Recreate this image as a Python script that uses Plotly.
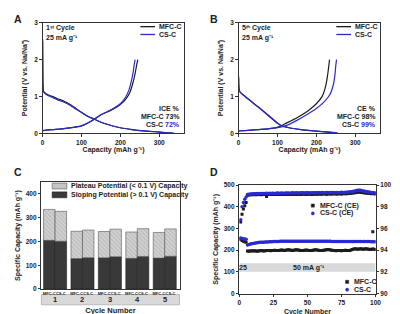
import plotly.graph_objects as go

W, H = 400, 314
FONT = "Liberation Sans"
TXT = "#222222"
BLACK = "#1c1c1c"
BLUE = "#2a2ad0"

def px(x):
    return x / W

def py(y):
    return 1 - y / H

# ---------------- Panel A: 1st cycle (capacity mAh/g, potential V) -------------
a_mfc_dis_cap = [0, 0.5, 1, 2, 4, 8, 15, 25, 40, 55, 70, 85, 100, 115, 133, 150, 170, 200, 230, 260, 290, 315, 338]
a_mfc_dis_v = [2.55, 1.6, 1.3, 1.16, 1.11, 1.08, 1.04, 1.0, 0.93, 0.87, 0.79, 0.68, 0.57, 0.47, 0.38, 0.3, 0.23, 0.15, 0.1, 0.065, 0.04, 0.02, 0.005]
a_cs_dis_cap = [0, 0.5, 1, 2, 4, 8, 15, 25, 40, 55, 70, 85, 100, 115, 133, 150, 170, 200, 230, 260, 290, 312, 332]
a_cs_dis_v = [2.5, 1.55, 1.28, 1.14, 1.1, 1.06, 1.02, 0.97, 0.9, 0.84, 0.76, 0.66, 0.56, 0.46, 0.38, 0.3, 0.23, 0.15, 0.1, 0.065, 0.04, 0.02, 0.005]
a_mfc_ch_cap = [0, 10, 25, 50, 75, 100, 115, 133, 150, 175, 200, 215, 225, 232, 238, 242, 245]
a_mfc_ch_v = [0.07, 0.085, 0.1, 0.12, 0.15, 0.2, 0.27, 0.38, 0.5, 0.62, 0.78, 0.94, 1.12, 1.35, 1.62, 1.85, 2.0]
a_cs_ch_cap = [0, 10, 25, 50, 75, 100, 115, 133, 150, 175, 200, 213, 222, 228, 233, 236, 238]
a_cs_ch_v = [0.07, 0.085, 0.1, 0.12, 0.15, 0.2, 0.27, 0.38, 0.5, 0.63, 0.8, 0.97, 1.17, 1.4, 1.66, 1.88, 2.0]

# ---------------- Panel B: 5th cycle ----------------
b_mfc_dis_cap = [0, 0.5, 1.5, 4, 10, 25, 50, 75, 100, 110, 130, 160, 200, 240]
b_mfc_dis_v = [1.55, 1.3, 1.18, 1.12, 1.06, 0.93, 0.72, 0.5, 0.28, 0.21, 0.15, 0.1, 0.055, 0.015]
b_cs_dis_cap = [0, 0.5, 1.5, 4, 10, 25, 50, 75, 100, 110, 130, 160, 200, 230, 255]
b_cs_dis_v = [1.5, 1.28, 1.17, 1.11, 1.05, 0.92, 0.71, 0.49, 0.27, 0.2, 0.15, 0.1, 0.06, 0.035, 0.012]
b_mfc_ch_cap = [0, 25, 50, 75, 90, 105, 120, 150, 180, 200, 215, 224, 229, 232, 234]
b_mfc_ch_v = [0.06, 0.08, 0.1, 0.12, 0.14, 0.18, 0.26, 0.42, 0.62, 0.8, 1.0, 1.28, 1.58, 1.82, 2.0]
b_cs_ch_cap = [0, 25, 50, 75, 100, 125, 150, 175, 200, 220, 235, 244, 248, 250, 252]
b_cs_ch_v = [0.06, 0.08, 0.1, 0.12, 0.15, 0.22, 0.35, 0.5, 0.67, 0.85, 1.05, 1.33, 1.6, 1.83, 2.0]

# ---------------- Panel C: capacity contributions ----------------
cycles_c = [1, 2, 3, 4, 5]
cycle_labels = ["1", "2", "3", "4", "5"]
mfc_total = [335, 243, 242, 240, 238]
mfc_sloping = [205, 128, 131, 129, 130]
cs_total = [327, 248, 252, 254, 253]
cs_sloping = [201, 132, 136, 137, 138]
bar_names = ["MFC-C", "CS-C"]

# ---------------- Panel D: cycling ----------------
cycle_d = list(range(1, 101))
mfc_cap = [250, 244, 241, 239, 237,
           196, 195, 196, 197, 196, 197, 196, 195, 196, 197,
           198, 197, 196, 197, 198, 199, 198, 197, 198, 199,
           200, 199, 198, 199, 200, 201, 200, 199, 200, 201,
           202, 201, 200, 199, 200, 201, 202, 201, 200, 199,
           198, 199, 200, 201, 200, 199, 198, 199, 200, 201,
           202, 201, 200, 199, 198, 199, 200, 201, 202, 203,
           202, 201, 200, 199, 198, 197, 198, 199, 198, 197,
           198, 199, 200, 199, 198, 199, 201, 203, 205, 206,
           205, 204, 205, 206, 205, 204, 205, 206, 205, 204,
           203, 204, 205, 204, 203]
cs_cap = [256, 254, 252, 251, 250,
          224, 226, 228, 230, 231, 232, 233, 234, 235, 236,
          236, 237, 237, 238, 238, 238, 239, 239, 239, 240,
          240, 240, 240, 240, 241, 241, 241, 241, 241, 241,
          241, 241, 241, 241, 241, 241, 241, 241, 241, 241,
          241, 241, 241, 241, 241, 241, 241, 241, 241, 241,
          241, 241, 241, 241, 241, 241, 241, 241, 241, 241,
          241, 241, 240, 240, 240, 240, 240, 240, 240, 240,
          240, 240, 240, 240, 240, 240, 240, 240, 240, 240,
          240, 240, 240, 240, 240, 240, 240, 240, 240, 240,
          240, 239, 239, 239, 239]
mfc_ce = [96.6, 97.3, 97.8, 98.1, 98.4,
          99.05, 99.08, 99.1, 99.1, 99.12, 99.1, 99.12, 99.1, 99.13, 99.12,
          99.1, 99.12, 99.14, 99.12, 98.95, 99.12, 99.14, 99.12, 99.15, 99.13,
          99.12, 99.14, 99.15, 99.13, 99.12, 99.14, 99.15, 99.13, 99.12, 99.14,
          99.16, 99.14, 99.13, 99.15, 99.16, 99.14, 99.13, 99.15, 99.16, 99.14,
          99.15, 99.17, 99.15, 99.14, 99.16, 99.17, 99.15, 99.14, 99.16, 99.18,
          99.16, 99.15, 99.17, 99.18, 99.16, 99.17, 99.19, 99.17, 99.16, 99.18,
          99.2, 99.18, 99.17, 99.19, 99.2, 99.18, 99.17, 99.19, 99.2, 99.18,
          99.19, 99.21, 99.2, 99.19, 99.21, 99.22, 99.24, 99.26, 99.28, 99.3,
          99.32, 99.34, 99.35, 99.34, 99.32, 99.3, 99.28, 99.26, 99.25, 99.24,
          99.22, 99.2, 95.7, 99.2, 99.18]
cs_ce = [96.8, 98.0, 98.4, 98.7, 98.9,
         99.12, 99.15, 99.17, 99.18, 99.2, 99.19, 99.2, 99.21, 99.2, 99.22,
         99.21, 99.22, 99.23, 99.22, 99.24, 99.23, 99.24, 99.23, 99.25, 99.24,
         99.23, 99.25, 99.26, 99.24, 99.25, 99.26, 99.25, 99.24, 99.26, 99.27,
         99.26, 99.25, 99.27, 99.28, 99.26, 99.27, 99.28, 99.27, 99.26, 99.28,
         99.29, 99.28, 99.27, 99.29, 99.3, 99.28, 99.27, 99.29, 99.3, 99.29,
         99.28, 99.3, 99.31, 99.29, 99.3, 99.31, 99.3, 99.29, 99.31, 99.32,
         99.3, 99.31, 99.32, 99.31, 99.3, 99.32, 99.31, 99.3, 99.32, 99.33,
         99.31, 99.32, 99.33, 99.34, 99.35, 99.36, 99.38, 99.4, 99.43, 99.46,
         99.5, 99.52, 99.53, 99.51, 99.48, 99.45, 99.42, 99.4, 99.38, 99.36,
         99.34, 99.32, 99.3, 99.29, 99.28]

fig = go.Figure()

def curve(x, y, color, xa, ya, name):
    fig.add_trace(go.Scatter(x=x, y=y, mode="lines", name=name, showlegend=False,
                             line=dict(color=color, width=1.2, shape="spline", smoothing=0.6),
                             xaxis=xa, yaxis=ya))

curve(a_mfc_dis_cap, a_mfc_dis_v, BLACK, "x", "y", "MFC-C")
curve(a_mfc_ch_cap, a_mfc_ch_v, BLACK, "x", "y", "MFC-C")
curve(a_cs_dis_cap, a_cs_dis_v, BLUE, "x", "y", "CS-C")
curve(a_cs_ch_cap, a_cs_ch_v, BLUE, "x", "y", "CS-C")
curve(b_mfc_dis_cap, b_mfc_dis_v, BLACK, "x2", "y2", "MFC-C")
curve(b_mfc_ch_cap, b_mfc_ch_v, BLACK, "x2", "y2", "MFC-C")
curve(b_cs_dis_cap, b_cs_dis_v, BLUE, "x2", "y2", "CS-C")
curve(b_cs_ch_cap, b_cs_ch_v, BLUE, "x2", "y2", "CS-C")

# Panel C bars
BW = 0.42
mfc_plateau = [t - s for t, s in zip(mfc_total, mfc_sloping)]
cs_plateau = [t - s for t, s in zip(cs_total, cs_sloping)]
for sl, pl, off in [(mfc_sloping, mfc_plateau, -BW), (cs_sloping, cs_plateau, 0.0)]:
    fig.add_trace(go.Bar(x=cycles_c, y=sl, offset=off, width=BW, xaxis="x3", yaxis="y3",
                         showlegend=False,
                         marker=dict(color="#393939", line=dict(color="#222", width=0.6))))
    fig.add_trace(go.Bar(x=cycles_c, y=pl, base=sl, offset=off, width=BW, xaxis="x3", yaxis="y3",
                         showlegend=False,
                         marker=dict(color="#cfcfcf", line=dict(color="#555", width=0.6),
                                     pattern=dict(shape="\\", fgcolor="#8a8a8a", bgcolor="#cfcfcf",
                                                  size=3, solidity=0.25))))

# Panel D scatter
fig.add_trace(go.Scatter(x=cycle_d, y=mfc_cap, mode="markers", xaxis="x4", yaxis="y4", showlegend=False,
                         marker=dict(symbol="square", size=3, color=BLACK)))
fig.add_trace(go.Scatter(x=cycle_d, y=cs_cap, mode="markers", xaxis="x4", yaxis="y4", showlegend=False,
                         marker=dict(symbol="circle", size=3.5, color=BLUE)))
fig.add_trace(go.Scatter(x=cycle_d, y=mfc_ce, mode="markers", xaxis="x4", yaxis="y5", showlegend=False,
                         marker=dict(symbol="square", size=3, color=BLACK)))
fig.add_trace(go.Scatter(x=cycle_d, y=cs_ce, mode="markers", xaxis="x4", yaxis="y5", showlegend=False,
                         marker=dict(symbol="circle", size=3.5, color=BLUE)))

tickfont = dict(family=FONT, size=6.5, color=TXT, weight="bold")
titlefont = dict(family=FONT, size=7, color=TXT, weight="bold")

def ax(**kw):
    d = dict(showline=True, linecolor="#333", linewidth=1, mirror=True, ticks="outside",
             ticklen=2.5, tickwidth=1, tickcolor="#333", showgrid=False, zeroline=False,
             tickfont=tickfont)
    d.update(kw)
    return d

cap_title = "Capacity (mAh g\u207b\u00b9)"
pot_title = "Potential (V vs. Na/Na\u207a)"
spec_title = "Specific Capacity (mAh g\u207b\u00b9)"

fig.update_layout(
    width=W, height=H, margin=dict(l=0, r=0, t=0, b=0),
    paper_bgcolor="white", plot_bgcolor="white",
    barmode="overlay", showlegend=False,
    font=dict(family=FONT, color=TXT),
    xaxis=ax(domain=[px(33.3), px(178)], range=[0, 365], dtick=100, anchor="y",
             title=dict(text=cap_title, font=titlefont, standoff=2)),
    yaxis=ax(domain=[py(124), py(11)], range=[0, 3], dtick=1, anchor="x",
             title=dict(text=pot_title, font=titlefont, standoff=5)),
    xaxis2=ax(domain=[px(233.3), px(378)], range=[0, 365], dtick=100, anchor="y2",
              title=dict(text=cap_title, font=titlefont, standoff=2)),
    yaxis2=ax(domain=[py(124), py(11)], range=[0, 3], dtick=1, anchor="x2",
              title=dict(text=pot_title, font=titlefont, standoff=5)),
    xaxis3=ax(domain=[px(32), px(173)], range=[0.5, 5.54], anchor="y3", ticks="",
              tickvals=[c - BW / 2 for c in cycles_c] + [c + BW / 2 for c in cycles_c],
              ticktext=[bar_names[0]] * 5 + [bar_names[1]] * 5,
              tickfont=dict(family=FONT, size=4, color=TXT, weight="bold"),
              title=dict(text="Cycle Number", font=dict(family=FONT, size=7.5, color=TXT, weight="bold"),
                         standoff=12)),
    yaxis3=ax(domain=[py(283.3), py(174)], range=[0, 450], dtick=100, anchor="x3",
              title=dict(text=spec_title, font=titlefont, standoff=4)),
    xaxis4=ax(domain=[px(234), px(373)], range=[0, 100], dtick=25, anchor="y4",
              title=dict(text="Cycle Number", font=titlefont, standoff=4)),
    yaxis4=ax(domain=[py(288), py(177)], range=[0, 500], dtick=100, anchor="x4",
              title=dict(text=spec_title, font=titlefont, standoff=4)),
    yaxis5=ax(overlaying="y4", side="right", anchor="x4", range=[90, 100], dtick=2, mirror=False,
              title=dict(text="Coulombic Efficiency (CE) (%)", font=titlefont, standoff=3)),
)

shapes = []
ann = []

def text(x, y, s, size=7, color=TXT, xanchor="left", yanchor="middle", xref="paper", yref="paper"):
    ann.append(dict(x=x, y=y, xref=xref, yref=yref, text=s, showarrow=False,
                    xanchor=xanchor, yanchor=yanchor,
                    font=dict(family=FONT, size=size, color=color, weight="bold")))

# panel letters
for L, x0, y0 in [("A", 2, 7), ("B", 202, 7), ("C", 2, 164), ("D", 202, 164)]:
    text(px(x0), py(y0), L, size=10.5)

# Panel A / B annotations
for dx, cyc, cet, v1, v2 in [(0, "1\u02e2\u1d57 Cycle", "ICE %", "73%", "72%"),
                             (200, "5\u1d57\u02b0 Cycle", "CE %", "98%", "99%")]:
    text(px(35 + dx), py(16.5), cyc)
    text(px(35 + dx), py(27), "25 mA g\u207b\u00b9")
    for yy, col, lab in [(15, BLACK, "MFC-C"), (23, BLUE, "CS-C")]:
        shapes.append(dict(type="line", xref="paper", yref="paper", x0=px(133 + dx), x1=px(148 + dx),
                           y0=py(yy), y1=py(yy), line=dict(color=col, width=1.3)))
        text(px(150 + dx), py(yy), lab)
    text(px(175 + dx), py(99), cet, xanchor="right")
    text(px(175 + dx), py(107), "MFC-C " + v1, xanchor="right")
    text(px(137 + dx), py(115), "CS-C")
    text(px(175 + dx), py(115), v2, color=BLUE, xanchor="right")

# Panel C legend and category band
shapes.append(dict(type="rect", xref="paper", yref="paper", x0=px(43), x1=px(58), y0=py(181), y1=py(175),
                   fillcolor="#c4c4c4", line=dict(color="#555", width=0.6)))
shapes.append(dict(type="rect", xref="paper", yref="paper", x0=px(43), x1=px(58), y0=py(190), y1=py(184),
                   fillcolor="#393939", line=dict(color="#222", width=0.6)))
text(px(60), py(178), "Plateau Potential (< 0.1 V) Capacity")
text(px(60), py(187), "Sloping Potential (> 0.1 V) Capacity")
shapes.append(dict(type="rect", xref="x3 domain", yref="paper", x0=0, x1=1, y0=py(299.5), y1=py(289),
                   fillcolor="#d9d9d9", line=dict(color="#9a9a9a", width=0.6), layer="below"))
for c, lab in zip(cycles_c, cycle_labels):
    text(c, py(294.3), lab, size=7.5, xanchor="center", xref="x3")

# Panel D band and legends
shapes.append(dict(type="rect", xref="x4", yref="y4", x0=0, x1=100, y0=100, y1=140,
                   fillcolor="#d9d9d9", line=dict(width=0), layer="below"))
text(3, 120, "25", xanchor="center", xref="x4", yref="y4")
text(51, 120, "50 mA g\u207b\u00b9", xanchor="center", xref="x4", yref="y4")

def marker_leg(x, y, col, circle, lab):
    shapes.append(dict(type="circle" if circle else "rect", xref="paper", yref="paper",
                       x0=px(x - 1.6), x1=px(x + 1.6), y0=py(y + 1.6), y1=py(y - 1.6),
                       fillcolor=col, line=dict(color=col, width=0.5)))
    text(px(x + 5), py(y), lab)

marker_leg(309, 198, BLACK, False, "MFC-C (CE)")
marker_leg(309, 206, BLUE, True, "CS-C (CE)")
marker_leg(344, 276, BLACK, False, "MFC-C")
marker_leg(344, 284, BLUE, True, "CS-C")

fig.update_layout(shapes=shapes, annotations=ann)
fig.write_html("out.html")
